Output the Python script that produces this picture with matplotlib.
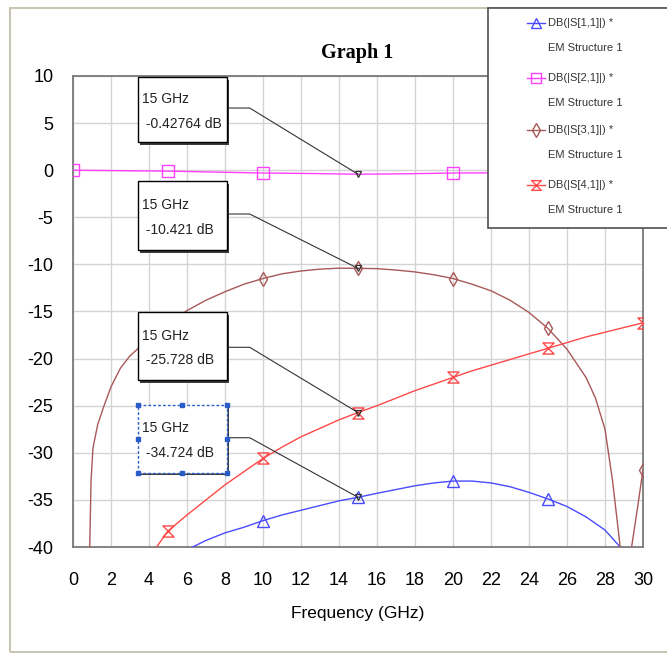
import numpy as np
import matplotlib
matplotlib.use("Agg")
import matplotlib.pyplot as plt
from matplotlib.patches import Rectangle
from matplotlib.lines import Line2D
from matplotlib.path import Path

plt.rcParams['font.family'] = ['Liberation Sans', 'DejaVu Sans']
plt.rcParams['axes.unicode_minus'] = False

""" data read off the picture """
f_s11 = [6.3, 7, 8, 9, 10, 11, 12, 13, 14, 15, 16, 17, 18, 19, 20, 21, 22, 23, 24, 25, 26, 27, 28, 28.8]
db_s11 = [-40.0, -39.3, -38.5, -37.9, -37.2, -36.6, -36.1, -35.6, -35.1, -34.724, -34.3, -33.9, -33.5,
          -33.2, -33.0, -33.0, -33.2, -33.6, -34.2, -34.9, -35.7, -36.8, -38.2, -40.0]
mk_s11 = [10, 15, 20, 25]

f_s21 = [0, 2.5, 5, 7.5, 10, 12.5, 15, 17.5, 20, 22.5, 25, 27.5, 30]
db_s21 = [0.0, -0.05, -0.1, -0.2, -0.3, -0.35, -0.42764, -0.38, -0.3, -0.28, -0.3, -0.3, -0.3]
mk_s21 = [0, 5, 10, 20, 25, 30]

f_s31 = [0.88, 0.95, 1.05, 1.3, 1.6, 2.0, 2.5, 3, 3.5, 4, 5, 6, 7, 8, 9, 10, 11, 12, 13, 14, 15, 16,
         17, 18, 19, 20, 21, 22, 23, 24, 25, 26, 27, 27.5, 28, 28.4, 28.8, 29.1, 29.4, 29.7, 30]
db_s31 = [-40.0, -33.0, -29.5, -27.0, -25.2, -23.0, -21.0, -19.7, -18.8, -17.8, -16.3, -14.9, -13.8,
          -12.9, -12.1, -11.5, -11.0, -10.7, -10.5, -10.4, -10.421, -10.45, -10.6, -10.8, -11.1, -11.5,
          -12.1, -12.8, -13.8, -15.1, -16.8, -19.0, -22.0, -24.2, -27.5, -33.0, -40.0, -45.0, -40.0,
          -36.0, -31.8]
mk_s31 = [10, 15, 20, 25, 30]

f_s41 = [4.4, 5, 6, 7, 8, 9, 10, 11, 12, 13, 14, 15, 16, 17, 18, 19, 20, 21, 22, 23, 24, 25, 26,
         27, 28, 29, 30]
db_s41 = [-40.0, -38.3, -36.6, -35.0, -33.4, -32.0, -30.6, -29.4, -28.3, -27.4, -26.5, -25.728,
          -25.0, -24.2, -23.4, -22.7, -22.0, -21.3, -20.7, -20.1, -19.5, -18.9, -18.3, -17.7, -17.2,
          -16.7, -16.2]
mk_s41 = [5, 10, 15, 20, 25, 30]

names = ['DB(|S[1,1]|) *', 'DB(|S[2,1]|) *', 'DB(|S[3,1]|) *', 'DB(|S[4,1]|) *']
colors = ['#4a4aff', '#ff40ff', '#a85858', '#ff4848']

marker_freq = 15
marker_text = ['15 GHz\n -0.42764 dB', '15 GHz\n -10.421 dB', '15 GHz\n -25.728 dB', '15 GHz\n -34.724 dB']

hourglass = Path([(-1, 1), (1, 1), (-1, -1), (1, -1), (-1, 1)],
                 [Path.MOVETO, Path.LINETO, Path.LINETO, Path.LINETO, Path.CLOSEPOLY])
markers = ['^', 's', 'd', hourglass]
traces = [(f_s11, db_s11, mk_s11), (f_s21, db_s21, mk_s21), (f_s31, db_s31, mk_s31), (f_s41, db_s41, mk_s41)]

W, H = 667, 653
fig = plt.figure(figsize=(W / 100, H / 100), dpi=100)
ax = fig.add_axes([73 / W, 1 - 547 / H, 570 / W, 471 / H])

for (fx, fy, mk), c, m in zip(traces, colors, markers):
    idx = [fx.index(v) for v in mk]
    ax.plot(fx, fy, color=c, lw=1.0, marker=m, markevery=idx, ms=8 if m != 'd' else 7,
            mfc='none', mec=c, mew=1.0, zorder=3)

ax.set_xlim(0, 30)
ax.set_ylim(-40, 10)
ax.set_xticks(np.arange(0, 31, 2))
ax.set_yticks(np.arange(-40, 11, 5))
ax.grid(True, color='#d4d4d4', lw=1.0)
ax.set_axisbelow(True)
ax.tick_params(length=0, labelsize=13, pad=14)
ax.tick_params(axis='x', pad=18)
for s in ax.spines.values():
    s.set_color('#7a7a7a')
    s.set_linewidth(1.3)
ax.set_xlabel('Frequency (GHz)', fontsize=12.5, labelpad=12)

fig.text(357 / W, 1 - 53 / H, 'Graph 1', family='Liberation Serif', fontweight='bold',
         fontsize=14.5, ha='center', va='center')

""" marker boxes """
boxes = [(9.9, 3.0, 6.6), (-1.15, -8.5, -4.65), (-15.05, -22.3, -18.8), (-24.9, -32.1, -28.4)]
vals = [db_s21[f_s21.index(marker_freq)], db_s31[f_s31.index(marker_freq)],
        db_s41[f_s41.index(marker_freq)], db_s11[f_s11.index(marker_freq)]]
bx0, bx1, elbow = 3.42, 8.1, 9.3
for k, ((top, bot, ly), txt, v) in enumerate(zip(boxes, marker_text, vals)):
    ax.plot([bx1, elbow, marker_freq], [ly, ly, v], color='#333333', lw=0.8, zorder=4)
    ax.plot([marker_freq], [v], marker='v', ms=5, mfc='none', mec='#333333', mew=0.9, zorder=5)
    ax.add_patch(Rectangle((bx0 + 0.12, bot - 0.28), bx1 - bx0, top - bot, fc='#3a3a3a', ec='none', zorder=5))
    if k < 3:
        ax.add_patch(Rectangle((bx0, bot), bx1 - bx0, top - bot, fc='white', ec='black', lw=1.0, zorder=6))
    else:
        ax.add_patch(Rectangle((bx0, bot), bx1 - bx0, top - bot, fc='white', ec='#2a5cc8', lw=1.0,
                               ls=(0, (2, 1.5)), zorder=6))
        hx = [bx0, (bx0 + bx1) / 2, bx1, bx0, bx1, bx0, (bx0 + bx1) / 2, bx1]
        hy = [top, top, top, (top + bot) / 2, (top + bot) / 2, bot, bot, bot]
        ax.plot(hx, hy, ls='none', marker='s', ms=3.5, color='#2a5cc8', zorder=7, clip_on=False)
    ax.text(bx0 + 0.22, (top + bot) / 2 - 0.2, txt, fontsize=10, va='center', ha='left',
            linespacing=1.95, color='#222222', zorder=8)

""" outer frame and legend box """
fig.patches.append(Rectangle((10 / W, 1 / H), 1.0, 1 - 9 / H, transform=fig.transFigure,
                             fill=False, ec='#c9c5b4', lw=1.5))
fig.patches.append(Rectangle((488 / W, 1 - 228 / H), 1.0, 220 / H, transform=fig.transFigure,
                             fc='white', ec='#505050', lw=1.2, zorder=10))
ly_first = [23, 78, 130, 185]
for name, c, m, y0 in zip(names, colors, markers, ly_first):
    fig.add_artist(Line2D([527 / W, 545 / W], [1 - y0 / H] * 2, color=c, lw=1.0, zorder=11))
    fig.add_artist(Line2D([536 / W], [1 - y0 / H], color=c, marker=m, ms=7, mfc='none', mew=1.0, zorder=11))
    fig.text(548 / W, 1 - y0 / H, name, fontsize=8, va='center', ha='left', color='#333333', zorder=12)
    fig.text(548 / W, 1 - (y0 + 25) / H, 'EM Structure 1', fontsize=8, va='center', ha='left',
             color='#333333', zorder=12)

fig.savefig('out.png', dpi=100)
